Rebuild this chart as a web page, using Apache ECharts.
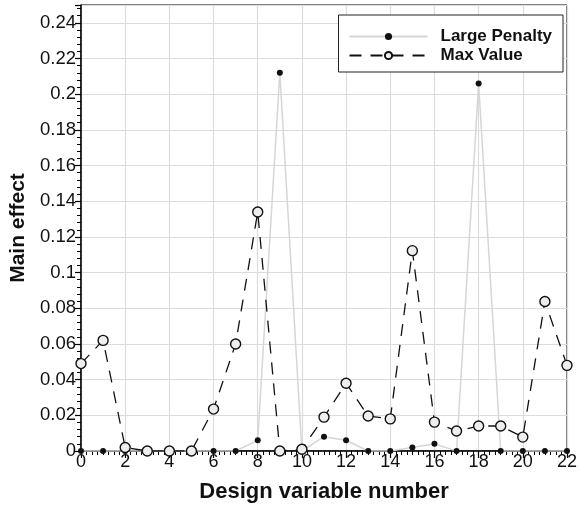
<!DOCTYPE html>
<html>
<head>
<meta charset="utf-8">
<script src="https://cdn.jsdelivr.net/npm/echarts@6/dist/echarts.min.js"></script>
<style>
  html, body { margin: 0; padding: 0; background: #fff; }
  #chart { width: 580px; height: 509px; }
</style>
</head>
<body>
<div id="chart"></div>
<script>
// Design variable indices
const variables = [0, 1, 2, 3, 4, 5, 6, 7, 8, 9, 10, 11, 12, 13, 14, 15, 16, 17, 18, 19, 20, 21, 22];

// Main effect per design variable
const largePenalty = [0, 0, 0, 0, 0, 0, 0, 0, 0.006, 0.212, 0, 0.008, 0.006, 0, 0, 0.002, 0.004, 0, 0.206, 0, 0, 0, 0];
const maxValue = [0.049, 0.062, 0.002, 0, 0, 0, 0.0235, 0.060, 0.134, 0, 0.001, 0.019, 0.038, 0.0196, 0.018, 0.1123, 0.0162, 0.0112, 0.014, 0.014, 0.0078, 0.0838, 0.048];

const seriesNames = ['Large Penalty', 'Max Value'];

const font = 'Liberation Sans, Arial, Helvetica, sans-serif';
const pairs = (vals) => variables.map((x, i) => [x, vals[i]]);

const chart = echarts.init(document.getElementById('chart'), null, { renderer: 'canvas' });

chart.setOption({
  animation: false,
  backgroundColor: '#fff',
  grid: {
    left: 79, right: 13, top: 5, bottom: 58,
    show: true, borderColor: '#000', borderWidth: 1, backgroundColor: 'transparent'
  },
  legend: {
    data: seriesNames,
    orient: 'vertical',
    right: 17, top: 15,
    padding: [13, 11, 8, 10],
    itemGap: 2,
    itemWidth: 78,
    itemHeight: 9,
    backgroundColor: '#fff',
    borderColor: '#222',
    borderWidth: 1,
    textStyle: { fontFamily: font, fontWeight: 'bold', fontSize: 17, color: '#111', padding: [0, 0, 0, 8] }
  },
  xAxis: {
    type: 'value',
    min: 0, max: 22, interval: 2,
    name: 'Design variable number',
    nameLocation: 'middle',
    nameGap: 30,
    nameTextStyle: { fontFamily: font, fontWeight: 'bold', fontSize: 22, color: '#111' },
    axisLine: { show: true, onZero: false, lineStyle: { color: '#000', width: 1.5 } },
    axisTick: { show: true, inside: false, length: 7, lineStyle: { color: '#000', width: 1.2 } },
    minorTick: { show: true, splitNumber: 8, length: 4, lineStyle: { color: '#000', width: 1 } },
    axisLabel: { fontFamily: font, fontSize: 18, color: '#111', margin: 2 },
    splitLine: { show: true, lineStyle: { color: '#dcdcdc', width: 1.2 } }
  },
  yAxis: {
    type: 'value',
    min: 0, max: 0.25, interval: 0.02,
    name: 'Main effect',
    nameLocation: 'middle',
    nameGap: 52,
    nameTextStyle: { fontFamily: font, fontWeight: 'bold', fontSize: 21, color: '#111' },
    axisLine: { show: true, onZero: false, lineStyle: { color: '#000', width: 1.5 } },
    axisTick: { show: true, inside: false, length: 6, lineStyle: { color: '#000', width: 1.2 } },
    minorTick: { show: true, splitNumber: 5, length: 4, lineStyle: { color: '#000', width: 1 } },
    axisLabel: { fontFamily: font, fontSize: 18.5, color: '#111', margin: 5, showMaxLabel: false },
    splitLine: { show: true, lineStyle: { color: '#dcdcdc', width: 1.2 } }
  },
  series: [
    {
      name: seriesNames[0],
      type: 'line',
      data: pairs(largePenalty),
      symbol: 'circle',
      symbolSize: 6,
      itemStyle: { color: '#111', borderWidth: 0 },
      lineStyle: { color: '#d6d6d6', width: 1.5 },
      z: 3
    },
    {
      name: seriesNames[1],
      type: 'line',
      data: pairs(maxValue),
      symbol: 'circle',
      symbolSize: 10,
      itemStyle: { color: '#eeeeee', borderColor: '#111', borderWidth: 1.4 },
      lineStyle: { color: '#111', width: 1.3, type: [12, 9] },
      z: 4
    }
  ]
});
</script>
</body>
</html>
